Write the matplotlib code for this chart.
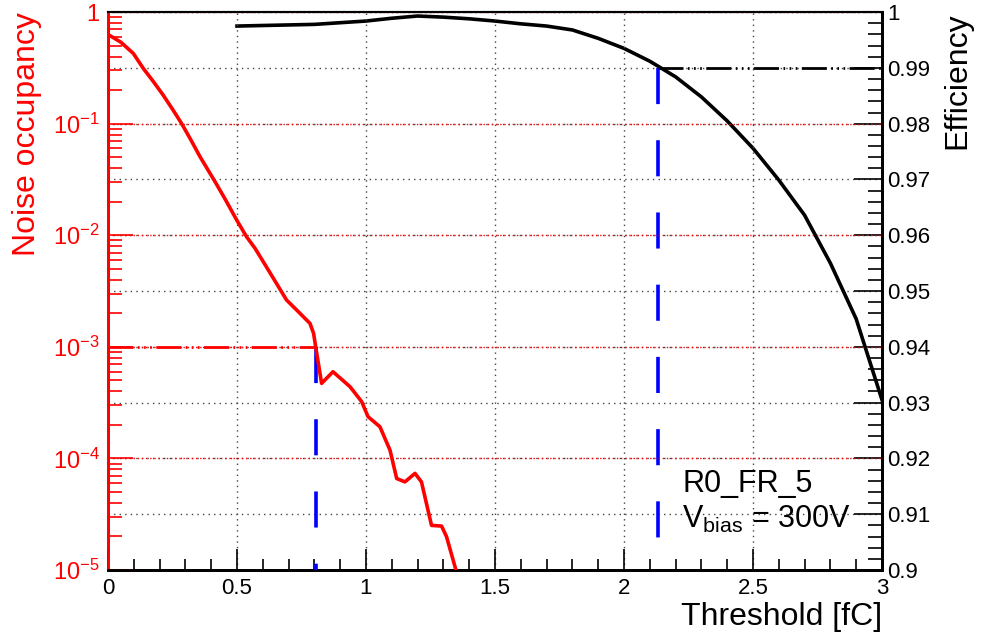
import numpy as np
import matplotlib
matplotlib.use("Agg")
import matplotlib.pyplot as plt
from matplotlib.ticker import FuncFormatter, MultipleLocator, LogLocator, NullFormatter

plt.rcParams['font.family'] = ['Liberation Sans', 'DejaVu Sans']
plt.rcParams['mathtext.fontset'] = 'custom'
plt.rcParams['mathtext.rm'] = 'Liberation Sans'
plt.rcParams['mathtext.it'] = 'Liberation Sans'

# noise occupancy vs threshold (left, log)
noise_thr = [0.0, 0.05, 0.098, 0.137, 0.175, 0.214, 0.25, 0.285, 0.32, 0.357, 0.415, 0.455,
             0.499, 0.537, 0.570, 0.60, 0.65, 0.692, 0.74, 0.783, 0.797, 0.805,
             0.828, 0.872, 0.938, 0.983, 1.008, 1.054, 1.093, 1.119, 1.151, 1.19, 1.215,
             1.254, 1.293, 1.312, 1.345, 1.36]
noise_log = [-0.20, -0.27, -0.37, -0.505, -0.62, -0.744, -0.87, -0.997, -1.14, -1.297, -1.52, -1.68,
             -1.864, -2.013, -2.117, -2.23, -2.42, -2.58, -2.69, -2.79, -2.88, -3.0,
             -3.327, -3.223, -3.357, -3.49, -3.626, -3.716, -3.925, -4.18, -4.21, -4.134, -4.21,
             -4.6, -4.606, -4.70, -4.97, -5.1]
noise_occ = [10 ** v for v in noise_log]

# efficiency vs threshold (right)
eff_thr = [0.5, 0.6, 0.7, 0.8, 0.9, 1.0, 1.1, 1.2, 1.3, 1.4, 1.5, 1.6, 1.7, 1.8, 1.9,
           2.0, 2.1, 2.2, 2.3, 2.4, 2.5, 2.6, 2.7, 2.8, 2.9, 3.0]
eff = [0.9975, 0.9976, 0.9977, 0.9978, 0.9981, 0.9984, 0.9989, 0.9993, 0.9991, 0.9988,
       0.9984, 0.9979, 0.9975, 0.9968, 0.9953, 0.9935, 0.9912, 0.9884, 0.9848, 0.9805,
       0.9756, 0.9699, 0.9636, 0.9550, 0.9450, 0.9305]

noise_cut = 1e-3
noise_cut_thr = 0.805
eff_cut = 0.99
eff_cut_thr = 2.13

fig = plt.figure(figsize=(9.88, 6.34), dpi=100)
ax = fig.add_axes([0.1093, 0.1009, 0.7834, 0.880])
ax2 = ax.twinx()
ax.set_zorder(ax2.get_zorder() + 1)
ax.patch.set_visible(False)

ax.set_xlim(0, 3)
ax.set_yscale('log')
ax.set_ylim(1e-5, 1)
ax2.set_ylim(0.9, 1.0)

# curves
ax.plot(noise_thr, noise_occ, color='red', lw=2.6, zorder=5)
ax2.plot(eff_thr, eff, color='black', lw=2.6, zorder=5)

ddd = (9, 1.6, 0.6, 1.6, 0.6, 1.6, 0.6, 1.6)
ax.plot([0, noise_cut_thr], [noise_cut, noise_cut], color='red', lw=2.0, dashes=ddd, zorder=4)
ax.plot([noise_cut_thr, noise_cut_thr], [noise_cut, 1e-5], color='blue', lw=2.6, dashes=(10, 10), zorder=4)
ax2.plot([eff_cut_thr, 3], [eff_cut, eff_cut], color='black', lw=2.0, dashes=ddd, zorder=4)
ax2.plot([eff_cut_thr, eff_cut_thr], [eff_cut, 0.9], color='blue', lw=2.6, dashes=(10, 10), zorder=4)

# grids
ax.grid(True, axis='x', color='#444444', ls=(0, (1, 3)), lw=1.0)
ax.grid(True, axis='y', which='major', color='red', ls=(0, (1, 2)), lw=1.0)
ax2.grid(True, axis='y', which='major', color='#444444', ls=(0, (1, 3)), lw=1.0)

# x axis
ax.xaxis.set_major_locator(MultipleLocator(0.5))
ax.xaxis.set_minor_locator(MultipleLocator(0.1))
ax.xaxis.set_major_formatter(FuncFormatter(lambda v, p: '%g' % v))
ax.tick_params(axis='x', which='major', direction='in', length=15, width=1.2, labelsize=16, pad=6)
ax.tick_params(axis='x', which='minor', direction='in', length=8, width=1.2)
ax.tick_params(axis='x', top=False, which='both')

# left log axis
ax.yaxis.set_major_locator(LogLocator(base=10, numticks=10))
ax.yaxis.set_minor_locator(LogLocator(base=10, subs=np.arange(2, 10), numticks=20))
ax.yaxis.set_minor_formatter(NullFormatter())
ax.yaxis.set_major_formatter(FuncFormatter(
    lambda v, p: '1' if abs(v - 1) < 1e-9 else '10$^{%d}$' % round(np.log10(v))))
ax.tick_params(axis='y', which='major', direction='in', length=18, width=1.2,
               colors='red', labelsize=17, pad=6)
ax.tick_params(axis='y', which='minor', direction='in', length=10, width=1.2, colors='red')

# right axis
ax2.yaxis.set_major_locator(MultipleLocator(0.01))
ax2.yaxis.set_minor_locator(MultipleLocator(0.002))
ax2.yaxis.set_major_formatter(FuncFormatter(lambda v, p: '%g' % round(v, 3)))
ax2.tick_params(axis='y', which='major', direction='in', length=20, width=1.2, labelsize=16, pad=4)
ax2.tick_params(axis='y', which='minor', direction='in', length=10, width=1.2)

for a in (ax, ax2):
    a.spines['left'].set_color('red')
    a.spines['left'].set_linewidth(2.0)
    a.spines['bottom'].set_linewidth(2.0)
    a.spines['right'].set_linewidth(2.0)
    a.spines['top'].set_linewidth(1.5)

ax.set_ylabel('Noise occupancy', color='red', fontsize=23, labelpad=8, loc='top')
ax2.set_ylabel('Efficiency', color='black', fontsize=23, labelpad=8, loc='top')
ax.set_xlabel('Threshold [fC]', fontsize=23, loc='right', labelpad=2)

ax.text(0.742, 0.155, 'R0_FR_5', transform=ax.transAxes, fontsize=22, va='center', ha='left', zorder=6)
ax.text(0.742, 0.09, 'V$_{\\mathregular{bias}}$ = 300V', transform=ax.transAxes, fontsize=22,
        va='center', ha='left', zorder=6)

fig.savefig('out.png', dpi=100)
